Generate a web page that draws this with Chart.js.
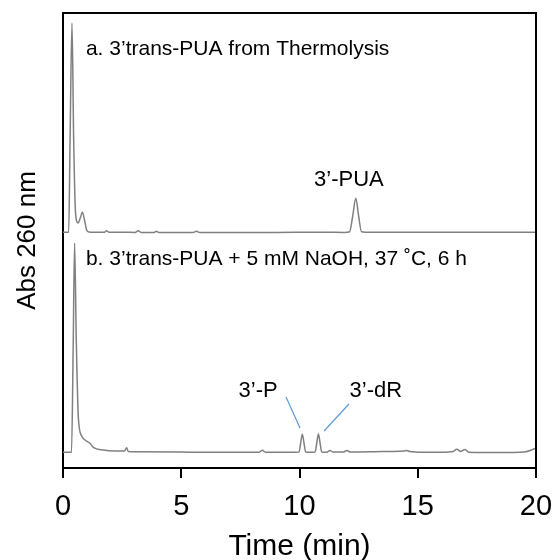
<!DOCTYPE html>
<html><head><meta charset="utf-8">
<script src="https://cdn.jsdelivr.net/npm/chart.js@4.4.1/dist/chart.umd.min.js"></script>
<style>html,body{margin:0;padding:0;background:#fff}#wrap{width:556px;height:560px}</style>
</head><body><div id="wrap"><canvas id="c" width="556" height="560"></canvas></div>
<script>
// Time axis (min)
const xTicks = [0, 5, 10, 15, 20];

// Trace a: 3'trans-PUA from Thermolysis (displayed with vertical offset)
const timeA = [0, 0.24, 0.30, 0.38, 0.45, 0.53, 0.64, 0.73, 0.82, 0.91, 1.0, 1.1, 1.3, 1.75, 1.84, 1.95, 2.6, 3.05, 3.18, 3.3, 3.85, 3.95, 4.05, 5.0, 5.5, 5.64, 5.78, 7.0, 9.0, 11.0, 11.9, 12.12, 12.25, 12.38, 12.5, 12.62, 13.0, 15.0, 17.0, 20.0];
const absA  = [235.7, 235.7, 330, 445, 330, 255, 245, 250, 255.7, 248, 238, 236, 235.8, 235.8, 237.3, 235.8, 235.7, 235.6, 237.3, 235.6, 235.6, 236.7, 235.6, 235.5, 235.4, 236.8, 235.4, 235.5, 235.6, 235.8, 235.6, 236.3, 252, 269.7, 252, 236.3, 235.7, 235.7, 235.7, 235.7];

// Trace b: 3'trans-PUA + 5 mM NaOH, 37 C, 6 h
const timeB = [0, 0.36, 0.43, 0.49, 0.56, 0.65, 0.79, 0.93, 1.14, 1.28, 1.70, 2.2, 2.6, 2.69, 2.76, 3.0, 5.0, 6.0, 7.0, 8.3, 8.43, 8.56, 9.5, 9.98, 10.05, 10.12, 10.19, 10.26, 10.45, 10.66, 10.73, 10.8, 10.87, 10.94, 11.15, 11.29, 11.42, 11.85, 12.0, 12.15, 13.5, 14.4, 14.53, 14.66, 15.2, 16.0, 16.5, 16.65, 16.82, 17.0, 17.15, 18.5, 19.5, 20.0];
const absB  = [15.7, 15.7, 120, 225, 130, 50, 32, 28, 24.7, 20.7, 18, 17, 17, 20.3, 16.5, 16.3, 16, 15.7, 15.7, 15.8, 17.7, 15.8, 15.8, 16, 25, 33.7, 25, 16, 15.8, 16, 25, 34, 25, 16, 15.8, 17.5, 16, 16, 17.5, 16, 16.5, 17, 17.6, 16.5, 15.7, 15.7, 16.5, 18.7, 16.6, 18.5, 15.8, 15.5, 16, 19.7];

const toPoints = (ts, vs) => ts.map((t, i) => ({x: t, y: vs[i]}));

const FONT = '"Liberation Sans", Arial, Helvetica, sans-serif';

const annotations = {
  texts: [
    {text: 'a. 3\u2019trans-PUA from Thermolysis', t: 0.97, v: 413, align: 'left', size: 21},
    {text: 'b. 3\u2019trans-PUA + 5 mM NaOH, 37 \u02DAC, 6 h', t: 0.97, v: 203, align: 'left', size: 21},
    {text: '3\u2019-PUA', t: 12.09, v: 282, align: 'center', size: 22},
    {text: '3\u2019-P', t: 8.25, v: 71, align: 'center', size: 22},
    {text: '3\u2019-dR', t: 13.23, v: 71, align: 'center', size: 22}
  ],
  leaders: [
    {t1: 9.43, v1: 71, t2: 10.02, v2: 40},
    {t1: 12.09, v1: 64, t2: 11.04, v2: 37}
  ]
};

const annotPlugin = {
  id: 'annot',
  afterDraw(chart) {
    const {ctx, chartArea: a, scales: {x, y}} = chart;
    ctx.save();
    // top and right frame
    ctx.strokeStyle = '#000';
    ctx.lineWidth = 2;
    ctx.beginPath();
    ctx.moveTo(a.left, a.top); ctx.lineTo(a.right, a.top); ctx.lineTo(a.right, a.bottom);
    ctx.stroke();
    // leader lines
    ctx.strokeStyle = '#5b9bd5';
    ctx.lineWidth = 1.2;
    annotations.leaders.forEach(l => {
      ctx.beginPath();
      ctx.moveTo(x.getPixelForValue(l.t1), y.getPixelForValue(l.v1));
      ctx.lineTo(x.getPixelForValue(l.t2), y.getPixelForValue(l.v2));
      ctx.stroke();
    });
    // texts
    ctx.fillStyle = '#000';
    ctx.textBaseline = 'alphabetic';
    annotations.texts.forEach(o => {
      ctx.font = o.size + 'px ' + FONT;
      ctx.textAlign = o.align;
      ctx.fillText(o.text, x.getPixelForValue(o.t), y.getPixelForValue(o.v));
    });
    ctx.restore();
  }
};

new Chart(document.getElementById('c'), {
  type: 'line',
  data: {
    datasets: [
      {label: 'a', data: toPoints(timeA, absA), borderColor: '#808080', borderWidth: 1.5, pointRadius: 0, cubicInterpolationMode: 'monotone', fill: false},
      {label: 'b', data: toPoints(timeB, absB), borderColor: '#808080', borderWidth: 1.5, pointRadius: 0, cubicInterpolationMode: 'monotone', fill: false}
    ]
  },
  options: {
    responsive: false,
    animation: false,
    layout: {padding: {left: 0, right: 20, top: 13, bottom: 0}},
    plugins: {legend: {display: false}, tooltip: {enabled: false}},
    scales: {
      x: {
        type: 'linear', min: 0, max: 20,
        afterBuildTicks: s => { s.ticks = xTicks.map(v => ({value: v})); },
        afterFit: s => { s.height = 92; s.paddingLeft = 0; s.paddingRight = 0; },
        ticks: {color: '#000', font: {family: FONT, size: 29}, padding: 12, maxRotation: 0},
        grid: {display: true, drawOnChartArea: false, drawTicks: true, tickLength: 10, color: '#000', lineWidth: 2},
        border: {display: true, color: '#000', width: 2},
        title: {display: true, text: 'Time (min)', color: '#000', font: {family: FONT, size: 30, lineHeight: 0.9}, padding: {top: 0, bottom: 0}}
      },
      y: {
        type: 'linear', min: 0, max: 455,
        afterFit: s => { s.width = 63; s.paddingTop = 0; s.paddingBottom = 0; },
        ticks: {display: false},
        grid: {display: false},
        border: {display: true, color: '#000', width: 2},
        title: {display: true, text: 'Abs 260 nm', color: '#000', font: {family: FONT, size: 26}, padding: {top: 12, bottom: 0}}
      }
    }
  },
  plugins: [annotPlugin]
});
</script>
</body></html>
